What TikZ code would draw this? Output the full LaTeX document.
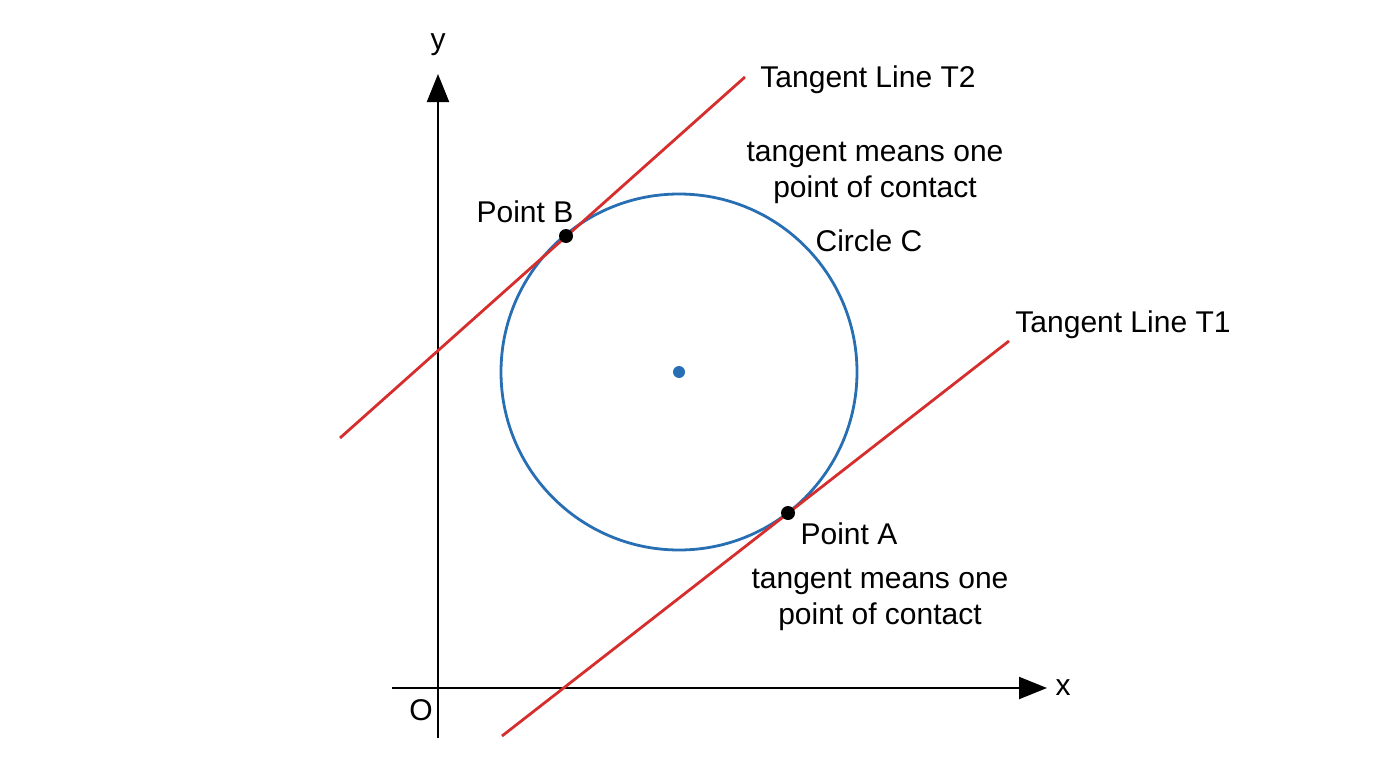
\documentclass[tikz,border=0pt]{standalone}
\usepackage{fontspec}
\setmainfont{Liberation Sans}
\usetikzlibrary{arrows.meta}
\definecolor{tred}{RGB}{214,45,45}
\definecolor{cblue}{RGB}{40,110,178}
\begin{document}
\begin{tikzpicture}[x=1pt,y=-1pt,
  lbl/.style={font=\fontsize{30}{36}\selectfont,align=center,inner sep=0},
  axis/.style={line width=2.2pt,-{Triangle[length=28pt,width=22pt]}},
  tan/.style={tred,line width=2.8pt},
  dot/.style={circle,fill=black,inner sep=0,minimum size=14pt}]
\useasboundingbox (0,0) rectangle (1376,768);
\coordinate (ys) at (438,738); \coordinate (ye) at (438,74);
\coordinate (xs) at (392,688); \coordinate (xe) at (1047,688);
\draw[axis] (ys) -- (ye);
\draw[axis] (xs) -- (xe);
\node[lbl] (ylab) at (438,45) {y};
\node[lbl] (xlab) at (1063,688) {x};
\node[lbl] (O) at (421,710) {O};
\node[draw=cblue,line width=2.8pt,circle,minimum size=356pt,inner sep=0] (C) at (679,372) {};
\node[circle,fill=cblue,inner sep=0,minimum size=12pt] (ctr) at (679,372) {};
\coordinate (t2s) at (340,438); \coordinate (t2e) at (745,77);
\coordinate (t1s) at (502,736); \coordinate (t1e) at (1009,341);
\draw[tan] (t2s) -- (t2e);
\draw[tan] (t1s) -- (t1e);
\node[dot] (B) at (566,236) {};
\node[dot] (A) at (788,513) {};
\node[lbl] (lt2) at (868,80) {Tangent Line T2};
\node[lbl] (n1) at (875,173) {tangent means one\\point of contact};
\node[lbl] (cc) at (869,241) {Circle C};
\node[lbl] (lt1) at (1123,325) {Tangent Line T1};
\node[lbl] (pb) at (525,212) {Point B};
\node[lbl] (pa) at (849,534) {Point A};
\node[lbl] (n2) at (880,600) {tangent means one\\point of contact};
\end{tikzpicture}
\end{document}
